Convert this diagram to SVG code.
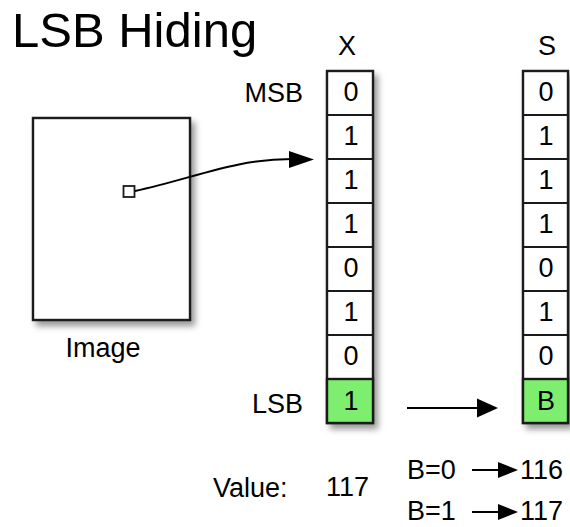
<svg xmlns="http://www.w3.org/2000/svg" width="570" height="527" viewBox="0 0 570 527">
  <style>
    text { font-family: "Liberation Sans", Arial, Helvetica, sans-serif; fill: #000; }
    .title { font-size: 49px; }
    .lbl { font-size: 27px; }
    .bit { font-size: 27px; text-anchor: middle; }
    .cell { fill: #fff; stroke: #1a1a1a; stroke-width: 2.4; }
    .lsb { fill: #7eee6e; }
    .frame { fill: #fff; stroke: #1a1a1a; stroke-width: 2.4; }
    .wire { fill: none; stroke: #000; stroke-width: 2; }
  </style>
  <defs>
    <filter id="shadow" x="-20%" y="-20%" width="150%" height="150%">
      <feDropShadow dx="4" dy="5" stdDeviation="3" flood-color="#000" flood-opacity="0.4"/>
    </filter>
  </defs>

  <rect width="570" height="527" fill="#fff"/>

  <text class="title" x="12" y="47">LSB Hiding</text>

  <!-- source image -->
  <g id="image">
    <rect class="frame" x="33" y="118" width="157" height="202" filter="url(#shadow)"/>
    <rect x="123.5" y="186" width="11" height="11" fill="#fff" stroke="#1a1a1a" stroke-width="1.8"/>
    <text class="lbl" x="103" y="357" text-anchor="middle">Image</text>
  </g>

  <!-- pixel X -->
  <g id="pixel-x">
    <text class="lbl" x="347" y="55" text-anchor="middle">X</text>
    <g filter="url(#shadow)">
      <rect class="cell" x="327" y="71" width="46" height="352"/>
    </g>
    <rect class="cell lsb" x="327" y="379" width="46" height="44"/>
    <path d="M327 115H373M327 159H373M327 203H373M327 247H373M327 291H373M327 335H373M327 379H373" stroke="#1a1a1a" stroke-width="2.2"/>
    <text class="bit" x="351" y="101">0</text>
    <text class="bit" x="351" y="145">1</text>
    <text class="bit" x="351" y="189">1</text>
    <text class="bit" x="351" y="233">1</text>
    <text class="bit" x="351" y="277">0</text>
    <text class="bit" x="351" y="321">1</text>
    <text class="bit" x="351" y="365">0</text>
    <text class="bit" x="351" y="410">1</text>
    <text class="lbl" x="303" y="102" text-anchor="end">MSB</text>
    <text class="lbl" x="303" y="413" text-anchor="end">LSB</text>
  </g>

  <!-- stego pixel S -->
  <g id="pixel-s">
    <text class="lbl" x="547" y="55" text-anchor="middle">S</text>
    <g filter="url(#shadow)">
      <rect class="cell" x="523" y="71" width="45" height="352"/>
    </g>
    <rect class="cell lsb" x="523" y="379" width="45" height="44"/>
    <path d="M523 115H568M523 159H568M523 203H568M523 247H568M523 291H568M523 335H568M523 379H568" stroke="#1a1a1a" stroke-width="2.2"/>
    <text class="bit" x="546" y="101">0</text>
    <text class="bit" x="546" y="145">1</text>
    <text class="bit" x="546" y="189">1</text>
    <text class="bit" x="546" y="233">1</text>
    <text class="bit" x="546" y="277">0</text>
    <text class="bit" x="546" y="321">1</text>
    <text class="bit" x="546" y="365">0</text>
    <text class="bit" x="546" y="410">B</text>
  </g>

  <!-- value readout -->
  <g id="values">
    <text class="lbl" x="213" y="497">Value:</text>
    <text class="lbl" x="326" y="496">117</text>
    <text class="lbl" x="407" y="479">B=0</text>
    <text class="lbl" x="520" y="479">116</text>
    <text class="lbl" x="407" y="520">B=1</text>
    <text class="lbl" x="520" y="520">117</text>
  </g>

  <!-- connectors -->
  <g id="connectors">
    <path class="wire" d="M135 191C195 178 235 159 292 159"/>
    <polygon points="314,159.5 289,151 289,168"/>
    <path class="wire" d="M407 408H479"/>
    <polygon points="498,408 477,398.5 477,417.5"/>
    <path class="wire" d="M472 470H502"/>
    <polygon points="518,470 498,462 498,478"/>
    <path class="wire" d="M472 512H502"/>
    <polygon points="518,512 498,504 498,520"/>
  </g>
</svg>
